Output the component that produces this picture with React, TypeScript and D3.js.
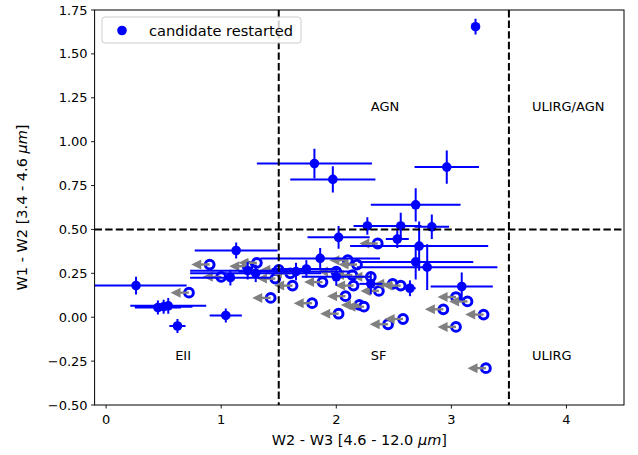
import React from "react";
import * as d3 from "d3";

// Detections: x, y, x-error, y-error
const detX = [3.21, 1.81, 1.97, 2.96, 2.69, 2.83, 2.56, 2.27, 2.02, 2.53, 2.72, 2.69, 2.79, 3.09, 2.64, 2.30, 1.86, 1.74, 1.65, 1.30, 1.23, 1.08, 1.13, 0.26, 0.45, 0.50, 0.54, 0.62, 1.04, 2.00];
const detY = [1.655, 0.875, 0.785, 0.855, 0.64, 0.515, 0.52, 0.52, 0.455, 0.445, 0.405, 0.315, 0.285, 0.175, 0.165, 0.19, 0.335, 0.275, 0.26, 0.25, 0.265, 0.225, 0.38, 0.18, 0.055, 0.06, 0.065, -0.05, 0.01, 0.23];
const detXErr = [0.035, 0.50, 0.37, 0.28, 0.39, 0.15, 0.18, 0.12, 0.27, 0.10, 0.60, 0.50, 0.61, 0.27, 0.05, 0.10, 0.52, 0.30, 0.50, 0.57, 0.50, 0.35, 0.36, 0.44, 0.20, 0.25, 0.33, 0.07, 0.14, 0.30];
const detYErr = [0.045, 0.085, 0.075, 0.095, 0.095, 0.07, 0.075, 0.05, 0.065, 0.05, 0.14, 0.10, 0.13, 0.08, 0.045, 0.06, 0.06, 0.05, 0.05, 0.05, 0.05, 0.045, 0.045, 0.05, 0.04, 0.04, 0.045, 0.04, 0.04, 0.05];

// Upper limits in W2 - W3
const limX = [0.72, 0.90, 1.00, 1.31, 1.43, 1.47, 1.50, 1.60, 1.62, 1.79, 1.88, 2.00, 2.02, 2.08, 2.10, 2.14, 2.15, 2.18, 2.20, 2.24, 2.30, 2.36, 2.37, 2.45, 2.49, 2.56, 2.58, 2.93, 3.04, 3.14, 3.28, 3.04, 3.30, 1.23];
const limY = [0.14, 0.30, 0.23, 0.31, 0.11, 0.22, 0.27, 0.25, 0.18, 0.08, 0.20, 0.26, 0.02, 0.12, 0.325, 0.24, 0.18, 0.30, 0.07, 0.06, 0.23, 0.42, 0.15, -0.04, 0.19, 0.18, -0.01, 0.045, 0.115, 0.09, 0.015, -0.055, -0.29, 0.29];

const xTicks = [0, 1, 2, 3, 4];
const yTicks = [-0.5, -0.25, 0, 0.25, 0.5, 0.75, 1.0, 1.25, 1.5, 1.75];

const regionNames = ["AGN", "ULIRG/AGN", "EII", "SF", "ULIRG"];
const regionX = [2.3, 3.7, 0.6, 2.3, 3.7];
const regionY = [1.2, 1.2, -0.22, -0.22, -0.22];

const vLines = [1.5, 3.5];
const hLines = [0.5];

const FONT = "DejaVu Sans, Liberation Sans, sans-serif";

export default function App() {
  const left = 94.6, right = 624, top = 10, bottom = 405;
  const xs = d3.scaleLinear().domain([-0.1, 4.5]).range([left, right]);
  const ys = d3.scaleLinear().domain([-0.5, 1.75]).range([bottom, top]);
  const fmtY = (v: number) => d3.format(".2f")(v).replace("-", "\u2212");
  const arrowLen = 0.16;
  const blue = "#0000ff";
  const grey = "#808080";

  return (
    <svg width={638} height={455} style={{ position: "absolute", left: 0, top: 0, background: "#fff" }} fontFamily={FONT}>
      <defs>
        <clipPath id="plotclip">
          <rect x={left} y={top} width={right - left} height={bottom - top} />
        </clipPath>
      </defs>
      <rect x={0} y={0} width={638} height={455} fill="#fff" />
      <g clipPath="url(#plotclip)">
        {/* limits */}
        {limX.map((x, i) => {
          const cx = xs(x), cy = ys(limY[i]);
          return (
            <circle key={"lc" + i} cx={cx} cy={cy} r={4.4} fill="#fff" stroke={blue} strokeWidth={3} />
          );
        })}
        {limX.map((x, i) => {
          const cx = xs(x), cy = ys(limY[i]);
          const tip = xs(x - arrowLen);
          return (
            <g key={"la" + i}>
              <line x1={cx} y1={cy} x2={tip + 8} y2={cy} stroke={grey} strokeWidth={2.4} />
              <path d={`M${tip},${cy} L${tip + 10},${cy - 5} L${tip + 10},${cy + 5} Z`} fill={grey} />
            </g>
          );
        })}
        {/* detections */}
        {detX.map((x, i) => {
          const cx = xs(x), cy = ys(detY[i]);
          return (
            <g key={"d" + i}>
              <line x1={xs(x - detXErr[i])} x2={xs(x + detXErr[i])} y1={cy} y2={cy} stroke={blue} strokeWidth={2} />
              <line x1={cx} x2={cx} y1={ys(detY[i] - detYErr[i])} y2={ys(detY[i] + detYErr[i])} stroke={blue} strokeWidth={2} />
              <circle cx={cx} cy={cy} r={4.8} fill={blue} />
            </g>
          );
        })}
        {vLines.map((v) => (
          <line key={"v" + v} x1={xs(v)} x2={xs(v)} y1={top} y2={bottom} stroke="#000" strokeWidth={2} strokeDasharray="7.4,3.2" />
        ))}
        {hLines.map((h) => (
          <line key={"h" + h} x1={left} x2={right} y1={ys(h)} y2={ys(h)} stroke="#000" strokeWidth={2} strokeDasharray="7.4,3.2" />
        ))}
      </g>
      {regionNames.map((t, i) => (
        <text key={t} x={xs(regionX[i])} y={ys(regionY[i])} fontSize={13} dominantBaseline="central" fill="#000">{t}</text>
      ))}
      {/* frame */}
      <rect x={left} y={top} width={right - left} height={bottom - top} fill="none" stroke="#000" strokeWidth={1} />
      {/* x ticks */}
      {xTicks.map((t) => (
        <g key={"xt" + t}>
          <line x1={xs(t)} x2={xs(t)} y1={bottom} y2={bottom + 3.5} stroke="#000" strokeWidth={0.9} />
          <text x={xs(t)} y={bottom + 19} fontSize={13} textAnchor="middle">{t}</text>
        </g>
      ))}
      {yTicks.map((t) => (
        <g key={"yt" + t}>
          <line x1={left - 3.5} x2={left} y1={ys(t)} y2={ys(t)} stroke="#000" strokeWidth={0.9} />
          <text x={left - 7} y={ys(t) + 4.6} fontSize={13} textAnchor="end">{fmtY(t)}</text>
        </g>
      ))}
      <text x={(left + right) / 2} y={445} fontSize={14.5} textAnchor="middle">
        W2 - W3 [4.6 - 12.0 <tspan fontStyle="italic">μm</tspan>]
      </text>
      <text transform={`translate(27,${(top + bottom) / 2}) rotate(-90)`} fontSize={14.5} textAnchor="middle">
        W1 - W2 [3.4 - 4.6 <tspan fontStyle="italic">μm</tspan>]
      </text>
      {/* legend */}
      <rect x={102} y={17} width={199} height={26} rx={3} fill="#fff" fillOpacity={0.8} stroke="#cccccc" strokeWidth={1} />
      <circle cx={122} cy={30.5} r={4.8} fill={blue} />
      <text x={149} y={35.5} fontSize={14.6}>candidate restarted</text>
    </svg>
  );
}
